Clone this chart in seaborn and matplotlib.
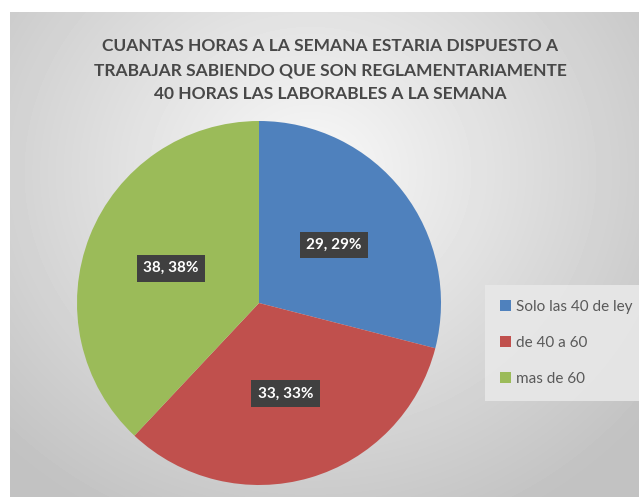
import numpy as np
import matplotlib
matplotlib.use("Agg")
import matplotlib.pyplot as plt
import seaborn as sns
from matplotlib.patches import Patch

categories = ["Solo las 40 de ley", "de 40 a 60", "mas de 60"]
values = [29, 33, 38]
colors = ["#4f81bd", "#c0504d", "#9bbb59"]
title = ("CUANTAS HORAS A LA SEMANA ESTARIA DISPUESTO A\n"
         "TRABAJAR SABIENDO QUE SON REGLAMENTARIAMENTE\n"
         "40 HORAS LAS LABORABLES A LA SEMANA")

sns.set_style("white")
plt.rcParams["font.family"] = ["Lato", "DejaVu Sans"]

W, H = 639, 497
fig = plt.figure(figsize=(W / 100, H / 100), dpi=100)
fig.patch.set_facecolor("white")

# gray radial gradient panel
bg = fig.add_axes([10 / W, 0, (W - 10) / W, (H - 12) / H])
yy, xx = np.mgrid[0:485, 0:629]
d = np.sqrt(((xx - 300) / 420.0) ** 2 + ((yy - 160) / 380.0) ** 2)
shade = np.clip(0.975 - 0.21 * d, 0.76, 0.975)
bg.imshow(shade, cmap="gray", vmin=0, vmax=1, aspect="auto", interpolation="bilinear")
bg.set_axis_off()

# pie
cx, cy, r = 259, 303, 182
ax = fig.add_axes([(cx - r) / W, (H - cy - r) / H, 2 * r / W, 2 * r / H])
wedges, texts, autotexts = ax.pie(
    values, colors=colors, startangle=90, counterclock=False,
    autopct=lambda p: f"{int(round(p))}, {int(round(p))}%",
    pctdistance=0.52, wedgeprops=dict(linewidth=0),
)
for t in autotexts:
    t.set_color("white")
    t.set_fontsize(11)
    t.set_fontweight("bold")
    t.set_bbox(dict(boxstyle="square,pad=0.42", facecolor="#404040", edgecolor="none"))
ax.set_xlim(-1, 1)
ax.set_ylim(-1, 1)
ax.set_axis_off()

fig.text(330 / W, 1 - 70 / H, title, ha="center", va="center", fontsize=12.5,
         fontweight="bold", color="#484848", linespacing=1.6)

handles = [Patch(facecolor=c, edgecolor="none") for c in colors]
leg = fig.legend(handles, categories, loc="center left",
                 bbox_to_anchor=(485 / W, 1 - 343 / H), frameon=True,
                 fontsize=11, labelcolor="#595959", handlelength=0.7,
                 handleheight=0.7, handletextpad=0.3, labelspacing=1.45,
                 borderpad=1.0, borderaxespad=0, fancybox=False)
leg.get_frame().set_facecolor("#e8e8e8")
leg.get_frame().set_edgecolor("none")
leg.get_frame().set_alpha(0.9)

fig.savefig("out.png", dpi=100, facecolor="white")
